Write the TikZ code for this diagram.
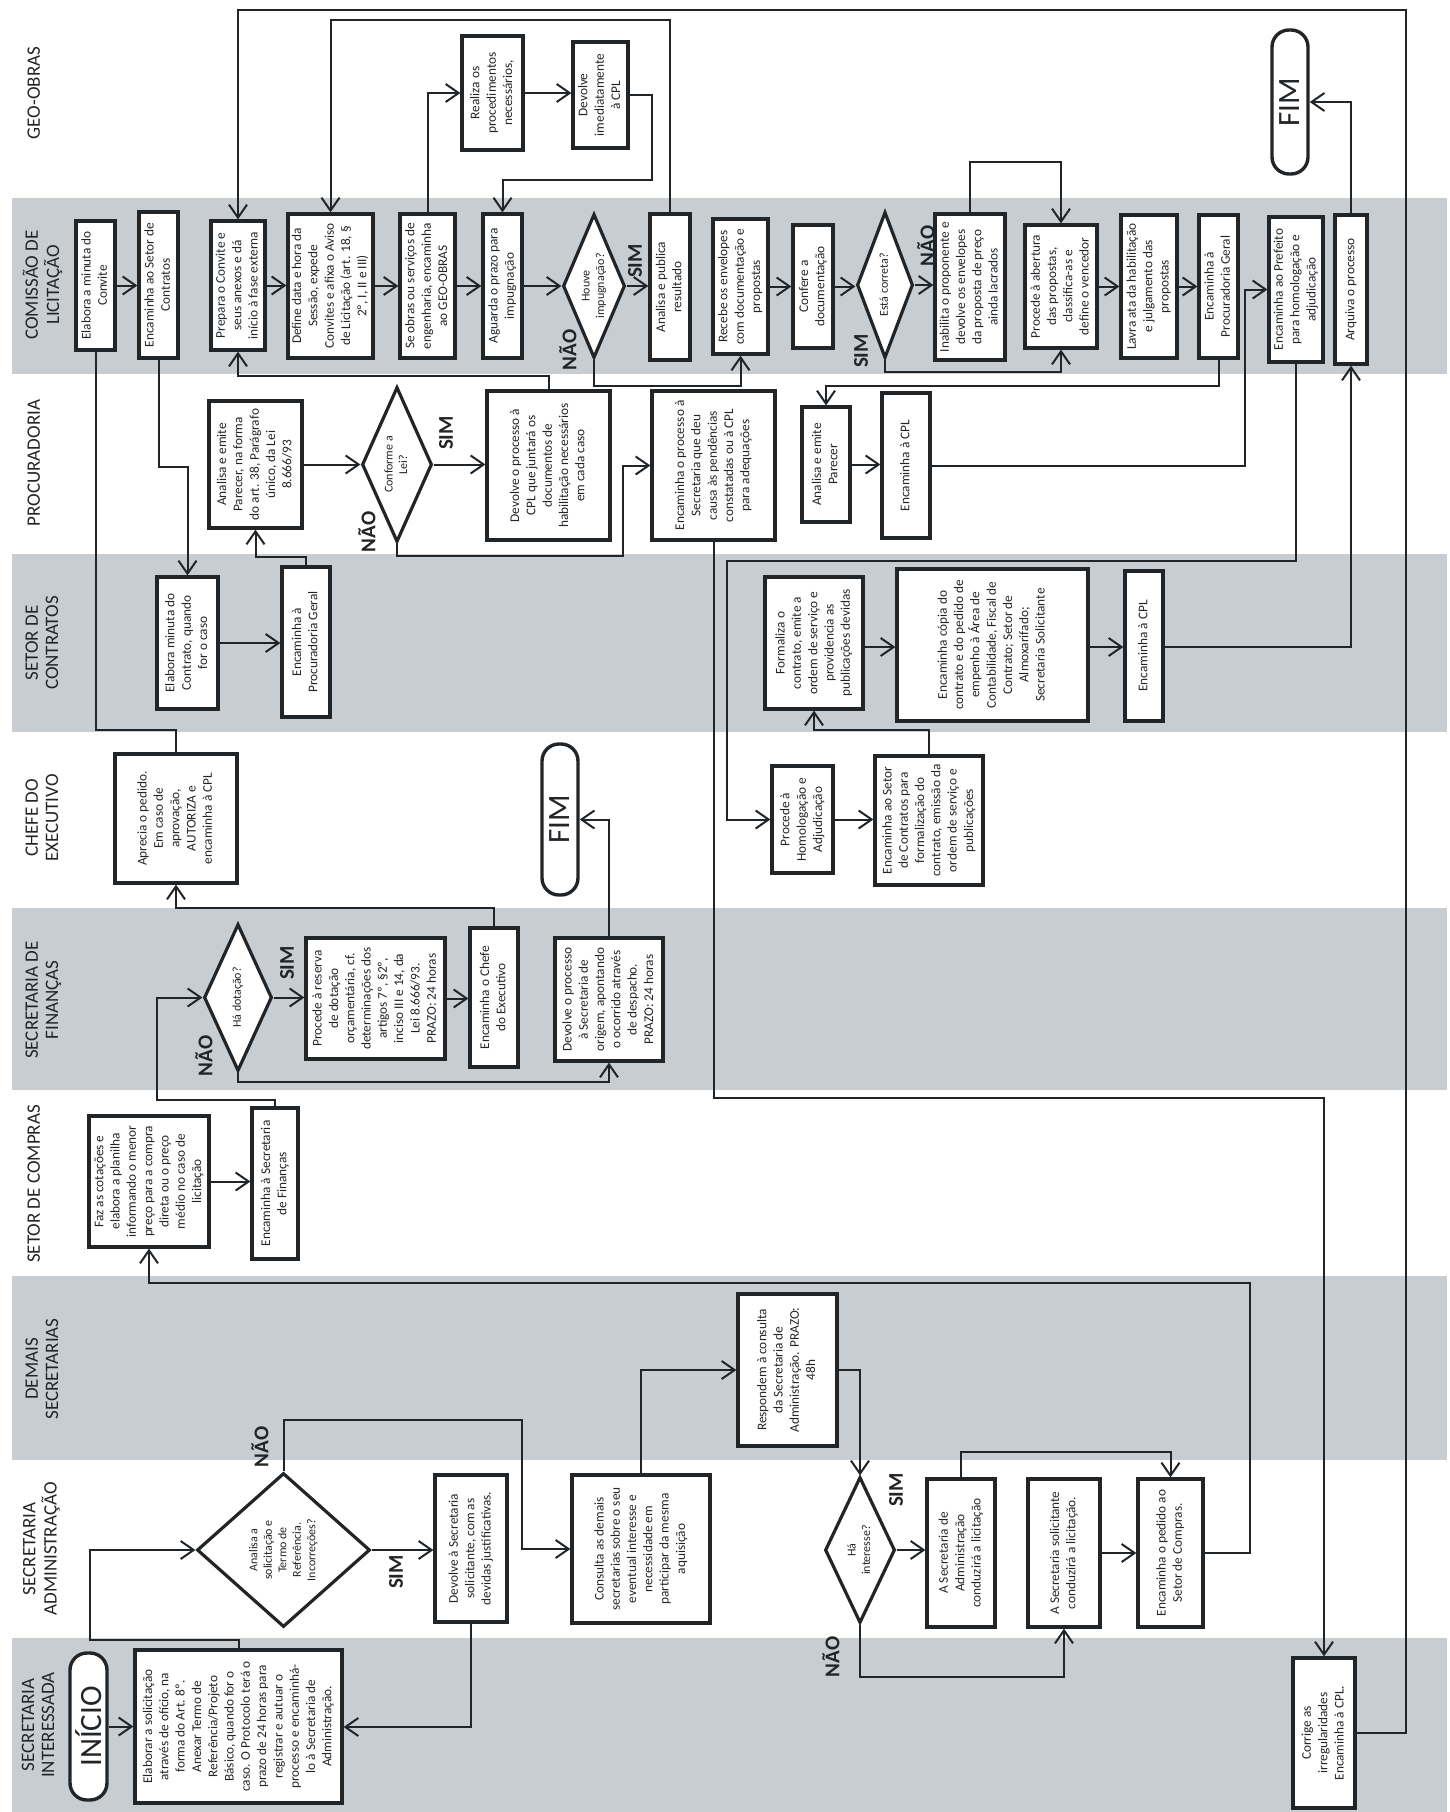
\documentclass[tikz,border=0pt]{standalone}
\usepackage{fontspec}
\setmainfont{Carlito}
\usepackage{graphicx}
\usetikzlibrary{arrows.meta,shapes.geometric}
\definecolor{lanegrey}{HTML}{C8CDD2}
\definecolor{ink}{HTML}{222528}
\newcommand{\rtx}[2]{\rotatebox{90}{#1\renewcommand{\arraystretch}{1}\begin{tabular}{@{}c@{}}#2\end{tabular}}}
\newcommand{\boxfont}{\fontsize{13.3}{16.3}\selectfont}
\newcommand{\diafont}{\fontsize{12}{14.5}\selectfont}
\newcommand{\lblfont}{\fontsize{19}{20}\selectfont}
\newcommand{\ynfont}{\fontsize{21}{21}\selectfont\bfseries}
\newcommand{\mkbox}[6]{\node[box,minimum width={(#4)-(#2)},minimum height={(#5)-(#3)}] (#1) at ({((#2)+(#4))/2},{((#3)+(#5))/2}) {\rtx{\boxfont}{#6}};}
\newcommand{\mkdia}[6]{\node[dia,minimum width={(#4)-(#2)},minimum height={(#5)-(#3)}] (#1) at ({((#2)+(#4))/2},{((#3)+(#5))/2}) {};\node[inner sep=0pt,text=ink] (#1t) at (#1.center) {\rtx{\diafont}{#6}};}
\newcommand{\mkyn}[4]{\node[inner sep=0pt,text=ink] (#1) at (#2,#3) {\rotatebox{90}{\ynfont #4}};}
\tikzset{
  box/.style={draw=ink,line width=3.2pt,fill=white,inner sep=1pt,text=ink,rectangle},
  dia/.style={draw=ink,line width=3.2pt,fill=white,inner sep=0pt,shape=diamond},
  term/.style={draw=ink,line width=3.4pt,fill=white,rounded corners=17pt,inner sep=0pt,text=ink},
  lbl/.style={inner sep=0pt,text=ink},
  arr/.style={draw=ink,line width=2pt,-{Straight Barb[length=13pt,width=18pt]}},
  ln/.style={draw=ink,line width=2pt},
}
\begin{document}
\begin{tikzpicture}[x=1pt,y=-1pt]
\useasboundingbox (0,0) rectangle (1450,1812);
\fill[white] (0,0) rectangle (1450,1812);
% lanes
\fill[lanegrey] (12,198) rectangle (1447,374);
\fill[lanegrey] (12,554) rectangle (1447,732);
\fill[lanegrey] (12,908) rectangle (1447,1090);
\fill[lanegrey] (12,1276) rectangle (1447,1460);
\fill[lanegrey] (12,1638) rectangle (1447,1812);
\node[lbl] (Lgeo) at (36,93) {\rtx{\lblfont}{GEO-OBRAS}};
\node[lbl] (Lcom) at (44,285) {\rtx{\lblfont}{COMISSÃO DE\\LICITAÇÃO}};
\node[lbl] (Lpro) at (36,463) {\rtx{\lblfont}{PROCURADORIA}};
\node[lbl] (Lsc) at (44,643) {\rtx{\lblfont}{SETOR DE\\CONTRATOS}};
\node[lbl] (Lche) at (44,818) {\rtx{\lblfont}{CHEFE DO\\EXECUTIVO}};
\node[lbl] (Lfin) at (44,1000) {\rtx{\lblfont}{SECRETARIA DE\\FINANÇAS}};
\node[lbl] (Lcmp) at (36,1184) {\rtx{\lblfont}{SETOR DE COMPRAS}};
\node[lbl] (Ldem) at (44,1369) {\rtx{\lblfont}{DEMAIS\\SECRETARIAS}};
\node[lbl] (Ladm) at (42,1549) {\rtx{\lblfont}{SECRETARIA\\ADMINISTRAÇÃO}};
\node[lbl] (Lint) at (40,1725) {\rtx{\lblfont}{SECRETARIA\\INTERESSADA}};
% Comissao
\mkbox{A1}{76}{221}{115}{350}{Elabora a minuta do\\Convite}
\mkbox{A2}{139}{212}{178}{358}{Encaminha ao Setor de\\Contratos}
\mkbox{A3}{211}{221}{265}{350}{Prepara o Convite e\\seus anexos e dá\\início à fase externa}
\mkbox{A4}{288}{214}{373}{358}{Define data e hora da\\Sessão, expede\\Convites e afixa o Aviso\\de Licitação (art. 18, §\\2º, I, II e III)}
\mkbox{A5}{400}{214}{455}{358}{Se obras ou serviços de\\engenharia, encaminha\\ao GEO-OBRAS}
\mkbox{A6}{483}{214}{522}{358}{Aguarda o prazo para\\impugnação}
\mkdia{D1}{563}{214}{625}{358}{Houve\\impugnação?}
\mkbox{A7}{650}{214}{690}{360}{Analisa e publica\\resultado}
\mkbox{A8}{713}{219}{768}{354}{Recebe os envelopes\\com documentação e\\propostas}
\mkbox{A9}{793}{225}{833}{348}{Confere a\\documentação}
\mkdia{D2}{857}{212}{913}{358}{Está correta?}
\mkbox{A10}{935}{214}{1005}{360}{Inabilita o proponente e\\devolve os envelopes\\da proposta de preço\\ainda lacrados}
\mkbox{A11}{1025}{225}{1097}{348}{Procede à abertura\\das propostas,\\classifica-as e\\define o vencedor}
\mkbox{A12}{1121}{215}{1177}{358}{Lavra ata da habilitação\\e julgamento das\\propostas}
\mkbox{A13}{1199}{215}{1238}{358}{Encaminha à\\Procuradoria Geral}
\mkbox{A14}{1269}{217}{1323}{362}{Encaminha ao Prefeito\\para homologação e\\adjudicação}
\mkbox{A15}{1335}{215}{1367}{364}{Arquiva o processo}
% GEO-OBRAS
\mkbox{G1}{462}{36}{523}{150}{Realiza os\\procedimentos\\necessários,}
\mkbox{G2}{573}{42}{628}{148}{Devolve\\imediatamente\\à CPL}
\node[term,minimum width=36,minimum height=144] (F1) at (1290,102) {\rotatebox{90}{\fontsize{31}{31}\selectfont FIM}};
% Procuradoria
\mkbox{P1}{209}{401}{302}{528}{Analisa e emite\\Parecer, na forma\\do art. 38, Parágrafo\\único, da Lei\\8.666/93}
\mkdia{D3}{362}{387}{432}{542}{Conforme a\\Lei?}
\mkbox{P2}{487}{391}{610}{540}{Devolve o processo à\\CPL que juntará os\\documentos de\\habilitação necessários\\em cada caso}
\mkbox{P3}{652}{391}{775}{540}{Encaminha o processo à\\Secretaria que deu\\causa às pendências\\constatadas ou à CPL\\para adequações}
\mkbox{P4}{802}{407}{850}{522}{Analisa e emite\\Parecer}
\mkbox{P5}{882}{393}{930}{538}{Encaminha à CPL}
% Setor de Contratos
\mkbox{S1}{157}{577}{218}{709}{Elabora minuta do\\Contrato, quando\\for o caso}
\mkbox{S2}{282}{567}{330}{717}{Encaminha à\\Procuradoria Geral}
\mkbox{S3}{765}{577}{863}{709}{Formaliza o\\contrato, emite a\\ordem de serviço e\\providencia as\\publicações devidas}
\mkbox{S4}{897}{569}{1088}{721}{Encaminha cópia do\\contrato e do pedido de\\empenho à Área de\\Contabilidade, Fiscal de\\Contrato; Setor de\\Almoxarifado;\\Secretaria Solicitante}
\mkbox{S5}{1125}{571}{1163}{721}{Encaminha à CPL}
% Chefe do Executivo
\mkbox{C1}{115}{754}{237}{883}{Aprecia o pedido.\\Em caso de\\aprovação,\\AUTORIZA e\\encaminha à CPL}
\node[term,minimum width=36,minimum height=151] (F2) at (560,819.5) {\rotatebox{90}{\fontsize{31}{31}\selectfont FIM}};
\mkbox{P6}{772}{766}{833}{873}{Procede à\\Homologação e\\Adjudicação}
\mkbox{P7}{875}{756}{983}{885}{Encaminha ao Setor\\de Contratos para\\formalização do\\contrato, emissão da\\ordem de serviço e\\publicações}
% Financas
\mkdia{D4}{204}{924}{272}{1071}{Há dotação?}
\mkbox{N1}{306}{938}{445}{1059}{Procede à reserva\\de dotação\\orçamentária, cf.\\determinações dos\\artigos 7º, §2º,\\inciso III e 14, da\\Lei 8.666/93.\\PRAZO: 24 horas}
\mkbox{N2}{470}{928}{518}{1067}{Encaminha o Chefe\\do Executivo}
\mkbox{N3}{555}{938}{663}{1061}{Devolve o processo\\à Secretaria de\\origem, apontando\\o ocorrido através\\de despacho.\\PRAZO: 24 horas}
% Compras
\mkbox{K1}{89}{1116}{209}{1247}{Faz as cotações e\\elabora a planilha\\informando o menor\\preço para a compra\\direta ou o preço\\médio no caso de\\licitação}
\mkbox{K2}{252}{1108}{298}{1259}{Encaminha à Secretaria\\de Finanças}
% Demais
\mkbox{M1}{738}{1294}{837}{1446}{Respondem à consulta\\da Secretaria de\\Administração. PRAZO:\\48h}
% Administracao
\mkdia{D5}{197}{1473}{370}{1627}{Analisa a\\solicitação e\\Termo de\\Referência.\\Incorreções?}
\mkbox{R1}{435}{1475}{507}{1622}{Devolve à Secretaria\\solicitante, com as\\devidas justificativas.}
\mkbox{R2}{572}{1475}{710}{1623}{Consulta as demais\\secretarias sobre o seu\\eventual interesse e\\necessidade em\\participar da mesma\\aquisição}
\mkdia{D6}{825}{1477}{895}{1623}{Há\\interesse?}
\mkbox{R3}{927}{1479}{995}{1627}{A Secretaria de\\Administração\\conduzirá a licitação}
\mkbox{R4}{1028}{1479}{1100}{1627}{A Secretaria solicitante\\conduzirá a licitação.}
\mkbox{R5}{1138}{1479}{1203}{1627}{Encaminha o pedido ao\\Setor de Compras.}
% Interessada
\node[term,minimum width=37,minimum height=147] (I0) at (88.5,1726.5) {\rotatebox{90}{\fontsize{31}{31}\selectfont INÍCIO}};
\mkbox{I1}{135}{1650}{342}{1803}{Elaborar a solicitação\\através de ofício, na\\forma do Art. 8º.\\Anexar Termo de\\Referência/Projeto\\Básico, quando for o\\caso. O Protocolo terá o\\prazo de 24 horas para\\registrar e autuar o\\processo e encaminhá-\\lo à Secretaria de\\Administração.}
\mkbox{I2}{1293}{1658}{1355}{1808}{Corrige as\\irregularidades\\Encaminha à CPL.}
% SIM / NAO labels
\mkyn{yD1s}{635}{261}{SIM}
\mkyn{yD1n}{568}{350}{NÃO}
\mkyn{yD2n}{926}{246}{NÃO}
\mkyn{yD2s}{861}{351}{SIM}
\mkyn{yD3s}{446}{433}{SIM}
\mkyn{yD3n}{367}{532}{NÃO}
\mkyn{yD4s}{287}{963}{SIM}
\mkyn{yD4n}{204}{1056}{NÃO}
\mkyn{yD5s}{396}{1572}{SIM}
\mkyn{yD5n}{260}{1447}{NÃO}
\mkyn{yD6s}{896}{1490}{SIM}
\mkyn{yD6n}{831}{1657}{NÃO}
% helper coordinates
\coordinate (rt1) at (1406,10);
\coordinate (yt2) at (0,20);
\coordinate (g2r) at (652,180);
\coordinate (p5r) at (1245,0);
\coordinate (h1) at (727,561);
\coordinate (y1098) at (0,1098);
\coordinate (y376) at (0,376);
\coordinate (y467) at (0,467);
\coordinate (y557) at (0,557);
\coordinate (d3n) at (623,556);
\coordinate (y730) at (0,730);
\coordinate (y908) at (0,908);
\coordinate (y1082) at (0,1082);
\coordinate (k2l) at (157,1100);
\coordinate (r5r) at (1250,1283);
\coordinate (i1l) at (90,1640);
\coordinate (d5n) at (522,1420);
\coordinate (y1727) at (0,1727);
\coordinate (y1677) at (0,1677);
\coordinate (y1452) at (0,1452);
\coordinate (y647) at (0,647);
\coordinate (y643) at (0,643);
% Comissao row
\draw[arr] (A1.east) -- (A1.east -| A2.west);
\draw[arr] (A3.east) -- (A3.east -| A4.west);
\draw[arr] (A4.east) -- (A4.east -| A5.west);
\draw[arr] (A5.east) -- (A5.east -| A6.west);
\draw[arr] (A6.east) -- (A6.east -| D1.west);
\draw[arr] (D1.east) -- (D1.east -| A7.west);
\draw[arr] (A8.east) -- (A8.east -| A9.west);
\draw[arr] (A9.east) -- (A9.east -| D2.west);
\draw[arr] (D2.east) -- (D2.east -| A10.west);
\draw[arr] (A11.east) -- (A11.east -| A12.west);
\draw[arr] (A12.east) -- (A12.east -| A13.west);
\draw[arr] (D1.south) -- ++(0,26) -| (A8.south);
\draw[arr] (D2.south) -- ++(0,12) -| (A11.south);
\draw[arr] (A10.north) -- ++(0,-50) -| (A11.north);
\draw[arr] (A7.north) -- (A7.north |- yt2) -| (A4.north);
\draw[arr] (I2.east) -| (rt1) -| (A3.north);
\draw[arr] (A5.north) |- (G1.west);
\draw[arr] (G1.east) -- (G1.east -| G2.west);
\draw[arr] (G2.east) -| (g2r) -| (A6.north);
\draw[arr] (A15.north) |- (F1.east);
% Procuradoria
\draw[arr] (A13.south) -- ++(0,26) -| (P4.north);
\draw[arr] (P4.east) -- (P4.east -| P5.west);
\draw[arr] (P5.east) -| (p5r |- A14.west) -- (A14.west);
\draw[arr] (A14.south) |- (h1) |- (P6.west);
\draw[arr] (P2.north) -- (P2.north |- y376) -| (A3.south);
\draw[arr] (A2.south) -- (A2.south |- y467) -| (S1.north);
\draw[arr] (S2.north) -- (S2.north |- y557) -| (P1.south);
\draw[arr] (P1.east) -- (P1.east -| D3.west);
\draw[arr] (D3.east) -- (D3.east -| P2.west);
\draw[arr] (D3.south) |- (d3n) |- (P3.west);
\draw[arr] (P3.south) -- (P3.south |- y1098) -| (I2.north);
% Setor de Contratos / Chefe
\draw[arr] (S1.east |- y643) -- (S2.west |- y643);
\draw[arr] (S3.east |- y647) -- (S4.west |- y647);
\draw[arr] (S4.east |- y647) -- (S5.west |- y647);
\draw[arr] (S5.east |- y647) -| (A15.south);
\draw[arr] (P6.east) -- (P6.east -| P7.west);
\draw[arr] (P7.north) -- ++(0,-24) -| (S3.south);
\draw[ln] (A1.south) -- (A1.south |- y730) -| (C1.north);
% Financas
\draw[arr] (N2.north) -- (N2.north |- y908) -| (C1.south);
\draw[arr] (D4.east) -- (D4.east -| N1.west);
\draw[arr] (N1.east) -- (N1.east -| N2.west);
\draw[arr] (D4.south) -- (D4.south |- y1082) -| (N3.south);
\draw[arr] (N3.north) |- (F2.east);
% Compras
\draw[arr] (K2.north) |- (k2l) |- (D4.west);
\draw[arr] (K1.east) -- (K1.east -| K2.west);
\draw[arr] (R5.east) -| (r5r) -| (K1.south);
% Administracao / Interessada
\draw[arr] (I0.east) -- (I0.east -| I1.west);
\draw[arr] (I1.north) |- (i1l) |- (D5.west);
\draw[arr] (D5.east) -- (D5.east -| R1.west);
\draw[arr] (D5.north) |- (d5n) |- (R2.west);
\draw[arr] (R1.south) |- (I1.east |- y1727);
\draw[arr] (R2.north) |- (M1.west);
\draw[arr] (M1.east) -| (D6.north);
\draw[arr] (D6.east) -- (D6.east -| R3.west);
\draw[arr] (D6.south) -- (D6.south |- y1677) -| (R4.south);
\draw[arr] (R3.north) -- (R3.north |- y1452) -| (R5.north);
\draw[arr] (R4.east) -- (R4.east -| R5.west);
\end{tikzpicture}
\end{document}
